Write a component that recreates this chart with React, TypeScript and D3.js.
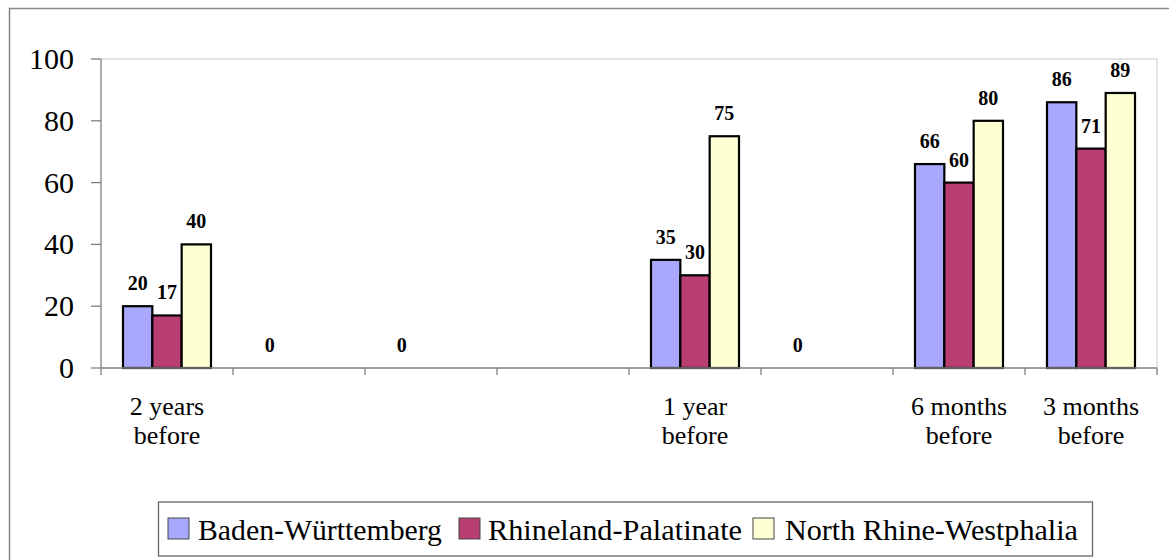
import React from "react";
import * as d3 from "d3";

const categories = ["2 years\nbefore", "", "", "", "1 year\nbefore", "", "6 months\nbefore", "3 months\nbefore"];
const seriesNames = ["Baden-Württemberg", "Rhineland-Palatinate", "North Rhine-Westphalia"];
const seriesColors = ["#A8A8FF", "#B93E72", "#FFFFD4"];
const badenWuerttemberg = [20, 0, 0, null, 35, 0, 66, 86];
const rhinelandPalatinate = [17, null, null, null, 30, null, 60, 71];
const northRhineWestphalia = [40, null, null, null, 75, null, 80, 89];
const yTicks = [0, 20, 40, 60, 80, 100];

const W = 1169;
const H = 560;
const FONT = "Times New Roman, Times, Liberation Serif, DejaVu Serif, Noto Serif, serif";

export default function App() {
  const series = [badenWuerttemberg, rhinelandPalatinate, northRhineWestphalia];
  const left = 101, right = 1157, top = 59, bottom = 368;
  const x0 = d3.scaleBand<number>().domain(d3.range(categories.length)).range([left, right]).padding(0);
  const x1 = d3.scaleBand<number>().domain(d3.range(series.length)).range([0, x0.bandwidth()]).paddingInner(0).paddingOuter(0.75);
  const y = d3.scaleLinear().domain([0, 100]).range([bottom, top]);

  const legendItems = [
    { sx: 168, tx: 198, len: 244 },
    { sx: 459, tx: 488, len: 254 },
    { sx: 753, tx: 785, len: 293 },
  ];

  return (
    <svg width={W} height={H} style={{ position: "absolute", left: 0, top: 0, background: "#fff" }}>
      <rect x={9.5} y={8.5} width={W + 20} height={H + 20} fill="#fff" stroke="#888" strokeWidth={1.5} />
      <line x1={left} x2={right} y1={top} y2={top} stroke="#c8c8c8" strokeWidth={1} />
      <line x1={right} x2={right} y1={top} y2={bottom} stroke="#c8c8c8" strokeWidth={1} />
      <line x1={left} x2={left} y1={top} y2={bottom} stroke="#808080" strokeWidth={1.3} />
      {yTicks.map((t) => (
        <g key={t}>
          <line x1={left - 10} x2={left} y1={y(t)} y2={y(t)} stroke="#808080" strokeWidth={1.3} />
          <text x={74} y={y(t) + 10} textAnchor="end" fontSize={30} fill="#000" fontFamily={FONT}>{t}</text>
        </g>
      ))}
      {categories.map((c, i) => (
        <g key={i} transform={`translate(${x0(i)},0)`}>
          {series.map((s, j) => {
            const v = s[i];
            if (v === null || v === undefined) return null;
            const bx = x1(j)!;
            return (
              <g key={j}>
                {v > 0 && (
                  <rect x={bx} y={y(v)} width={x1.bandwidth()} height={y(0) - y(v)} fill={seriesColors[j]} stroke="#000" strokeWidth={2.2} />
                )}
                <text x={bx + x1.bandwidth() / 2} y={y(v) - 16} textAnchor="middle" fontSize={20} fontWeight="bold" fill="#000" fontFamily={FONT}>{v}</text>
              </g>
            );
          })}
        </g>
      ))}
      <line x1={left} x2={right} y1={bottom} y2={bottom} stroke="#808080" strokeWidth={1.3} />
      {d3.range(categories.length + 1).map((i) => {
        const xx = i < categories.length ? x0(i)! : right;
        return <line key={i} x1={xx} x2={xx} y1={bottom} y2={bottom + 7} stroke="#808080" strokeWidth={1.3} />;
      })}
      {categories.map((c, i) => (
        <text key={i} x={x0(i)! + x0.bandwidth() / 2} y={415} textAnchor="middle" fontSize={26} fill="#000" fontFamily={FONT}>
          {c.split("\n").map((line, k) => (
            <tspan key={k} x={x0(i)! + x0.bandwidth() / 2} dy={k === 0 ? 0 : 28.5}>{line}</tspan>
          ))}
        </text>
      ))}
      <rect x={158.5} y={502} width={934} height={54} fill="#fff" stroke="#666" strokeWidth={1.3} />
      {seriesNames.map((n, j) => (
        <g key={n}>
          <rect x={legendItems[j].sx} y={518} width={21} height={21} fill={seriesColors[j]} stroke="#444" strokeWidth={1} />
          <text x={legendItems[j].tx} y={540} fontSize={30} fill="#000" fontFamily={FONT} textLength={legendItems[j].len} lengthAdjust="spacingAndGlyphs">{n}</text>
        </g>
      ))}
    </svg>
  );
}
